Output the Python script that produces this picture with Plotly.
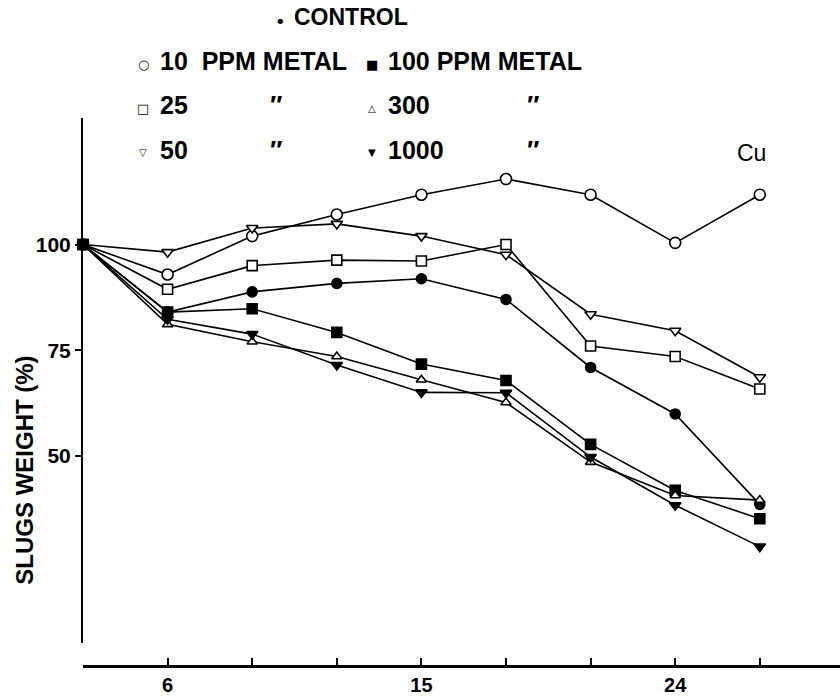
import plotly.graph_objects as go

# Sampling days and relative slug weight (%) for each copper treatment
days = [3, 6, 9, 12, 15, 18, 21, 24, 27]
control = [100, 84.0, 88.8, 90.8, 91.9, 87.0, 70.9, 59.9, 38.5]
ppm10 = [100, 92.9, 102.0, 107.1, 111.8, 115.5, 111.8, 100.4, 111.8]
ppm25 = [100, 89.4, 95.0, 96.3, 96.1, 100.0, 76.0, 73.5, 65.8]
ppm50 = [100, 98.2, 103.9, 104.9, 102.0, 97.6, 83.5, 79.6, 68.6]
ppm100 = [100, 84.0, 84.8, 79.2, 71.7, 67.8, 52.7, 41.8, 35.1]
ppm300 = [100, 81.1, 77.0, 73.5, 68.0, 62.6, 48.5, 40.6, 39.5]
ppm1000 = [100, 82.3, 78.8, 71.5, 65.0, 64.9, 49.7, 38.3, 28.5]

x_tick_vals = [3, 6, 9, 12, 15, 18, 21, 24, 27]
x_tick_text = ["", "6", "", "", "15", "", "", "24", ""]
y_tick_vals = [50, 75, 100]
y_tick_text = ["50", "75", "100"]

W, H = 840, 696
ML, MR, MT, MB = 83, 0, 118, 28
PW, PH = W - ML - MR, H - MT - MB

SANS = "Liberation Sans, Arial, sans-serif"
SYM = "DejaVu Sans, sans-serif"


def px(xp):
    return (xp - ML) / PW


def py(yp):
    return (H - MB - yp) / PH


series = [
    ("CONTROL", control, "circle", "black", 10),
    ("10 PPM", ppm10, "circle", "white", 11),
    ("25 PPM", ppm25, "square", "white", 10),
    ("50 PPM", ppm50, "triangle-down", "white", 10),
    ("100 PPM", ppm100, "square", "black", 10),
    ("300 PPM", ppm300, "triangle-up", "white", 9),
    ("1000 PPM", ppm1000, "triangle-down", "black", 10),
]

fig = go.Figure()
for name, vals, sym, fill, size in series:
    fig.add_trace(go.Scatter(
        x=days, y=vals, name=name, mode="lines+markers",
        line=dict(color="black", width=1.6),
        marker=dict(symbol=sym, size=size, color=fill,
                    line=dict(color="black", width=1.6)),
        showlegend=False, cliponaxis=False,
    ))

annotations = []


def text(s, xp, yp, size=25, font=SANS, anchor="left", bold=True):
    annotations.append(dict(
        text=f"<b>{s}</b>" if bold else s,
        x=px(xp), y=py(yp), xref="paper", yref="paper",
        xanchor=anchor, yanchor="middle", showarrow=False,
        font=dict(family=font, size=size, color="black"),
    ))


# Key drawn above the plot
text("•", 280, 21, size=18, font=SYM, anchor="center", bold=False)
text("CONTROL", 292, 17, size=23)
text("○", 143, 64, size=13, font=SYM, anchor="center", bold=False)
text("10&nbsp;&nbsp;PPM METAL", 158, 61)
text("■", 372, 64, size=13, font=SYM, anchor="center", bold=False)
text("100 PPM METAL", 386, 61)
text("□", 143, 108, size=13, font=SYM, anchor="center", bold=False)
text("25", 158, 105)
text("″", 268, 105, size=26)
text("△", 372, 108, size=10, font=SYM, anchor="center", bold=False)
text("300", 386, 105)
text("″", 525, 105, size=26)
text("▽", 143, 153, size=10, font=SYM, anchor="center", bold=False)
text("50", 158, 150)
text("″", 268, 150, size=26)
text("▼", 372, 153, size=10, font=SYM, anchor="center", bold=False)
text("1000", 386, 150)
text("″", 525, 150, size=26)
text("Cu", 751, 153, size=23, anchor="center", bold=False)

# Rotated y-axis title
annotations.append(dict(
    text="<b>SLUGS WEIGHT (%)</b>", textangle=-90,
    x=px(25), y=py(472), xref="paper", yref="paper",
    xanchor="center", yanchor="middle", showarrow=False,
    font=dict(family=SANS, size=24, color="black"),
))

fig.update_layout(
    width=W, height=H,
    margin=dict(l=ML, r=MR, t=MT, b=MB, pad=0),
    paper_bgcolor="white", plot_bgcolor="white",
    annotations=annotations,
    xaxis=dict(
        range=[3, 3 + PW / 28.2], domain=[0, 1],
        anchor="free", position=0,
        showline=True, linecolor="black", linewidth=3,
        ticks="inside", ticklen=7, tickwidth=2, tickcolor="black",
        tickvals=x_tick_vals, ticktext=x_tick_text,
        tickfont=dict(family=SANS, size=20, color="black", weight="bold"),
        showgrid=False, zeroline=False,
    ),
    yaxis=dict(
        domain=[23 / PH, 1],
        range=[100 - 400 / 4.24, 100 + 127 / 4.24],
        showline=True, linecolor="black", linewidth=2,
        ticks="outside", ticklen=6, tickwidth=2, tickcolor="black",
        tickvals=y_tick_vals, ticktext=y_tick_text,
        tickfont=dict(family=SANS, size=21, color="black", weight="bold"),
        showgrid=False, zeroline=False,
    ),
)

fig.write_html("out.html")
